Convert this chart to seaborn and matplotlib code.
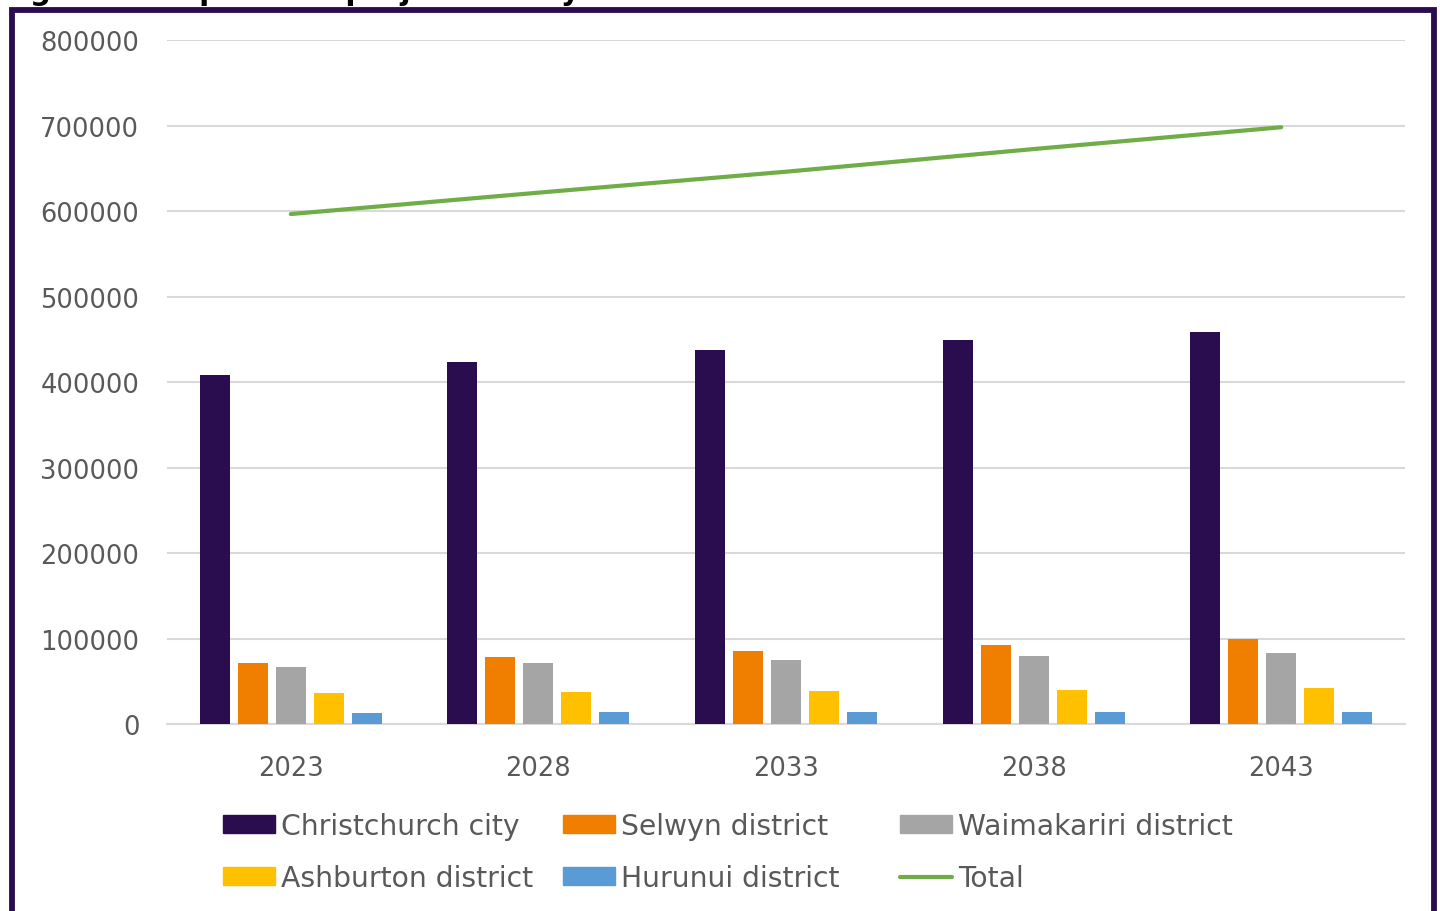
import numpy as np
import pandas as pd
import seaborn as sns
import matplotlib
matplotlib.use("Agg")
import matplotlib.pyplot as plt
from matplotlib.patches import Rectangle, Patch
from matplotlib.lines import Line2D

years = ["2023", "2028", "2033", "2038", "2043"]
districts = ["Christchurch city", "Selwyn district", "Waimakariri district",
             "Ashburton district", "Hurunui district"]
christchurch = [408000, 423500, 437500, 449000, 458500]
selwyn = [71500, 78500, 85500, 92500, 99500]
waimakariri = [66500, 71000, 75000, 79500, 83000]
ashburton = [36000, 37500, 38500, 40000, 42000]
hurunui = [13000, 13500, 14000, 14000, 14300]
total = [596500, 621500, 646000, 672500, 698000]
colors = ["#2A0D4E", "#F07F00", "#A5A5A5", "#FFC000", "#5B9BD5"]
line_color = "#70AD47"
text_color = "#595959"

sns.set_theme(style="white")
plt.rcParams["font.family"] = ["DejaVu Sans"]

rows = []
for d, vals in zip(districts, [christchurch, selwyn, waimakariri, ashburton, hurunui]):
    for y, v in zip(years, vals):
        rows.append({"year": y, "district": d, "value": v})
df = pd.DataFrame(rows)

fig = plt.figure(figsize=(14.4, 9.12), dpi=100)
ax = fig.add_axes([0.116, 0.205, 0.8597, 0.75])

sns.barplot(data=df, x="year", y="value", hue="district", hue_order=districts,
            palette=colors, saturation=1, width=0.767, gap=0.21, ax=ax, legend=False,
            edgecolor="none", linewidth=0, zorder=3)

tdf = pd.DataFrame({"pos": np.arange(len(years)), "total": total})
sns.lineplot(data=tdf, x="pos", y="total", color=line_color, linewidth=3.0,
             ax=ax, zorder=4, solid_capstyle="round")

ax.set_xlim(-0.5, len(years) - 0.5)
ax.set_ylim(0, 800000)
ax.set_yticks(np.arange(0, 800001, 100000))
ax.set_yticklabels([f"{int(v)}" for v in np.arange(0, 800001, 100000)])
ax.set_xticks(np.arange(len(years)))
ax.set_xticklabels(years)
ax.set_xlabel("")
ax.set_ylabel("")
ax.yaxis.grid(True, color="#D9D9D9", linewidth=1.5, zorder=0)
ax.set_axisbelow(True)
for s in ["top", "right", "left"]:
    ax.spines[s].set_visible(False)
ax.spines["bottom"].set_color("#D9D9D9")
ax.spines["bottom"].set_linewidth(1.5)
ax.tick_params(axis="both", length=0, labelsize=18.5, labelcolor=text_color)
ax.tick_params(axis="y", pad=20)
ax.tick_params(axis="x", pad=22)

handles = [Patch(color=c, label=d) for c, d in zip(colors, districts)]
handles.append(Line2D([0], [0], color=line_color, linewidth=3.0,
                      solid_capstyle="round", label="Total"))
columns = [[0, 3], [1, 4], [2, 5]]
col_x = [223, 563, 900]
for idx, x0 in zip(columns, col_x):
    fig.legend([handles[i] for i in idx], [handles[i].get_label() for i in idx],
               ncol=1, loc="upper left",
               bbox_to_anchor=(x0 / 1440, 1 - 813 / 912),
               frameon=False, fontsize=20.3, handlelength=1.85, handleheight=0.6,
               handletextpad=0.2, labelspacing=0.86,
               labelcolor=text_color, borderaxespad=0, borderpad=0)

# outer frame
fig.patches.append(Rectangle((12 / 1440, -0.05), (1434 - 12) / 1440, 1.05 - 10.5 / 912,
                             transform=fig.transFigure, fill=False,
                             edgecolor="#2A0D4E", linewidth=4.2, clip_on=False))

fig.text(0.0, 1 + 0.5 / 912, "Figure 2: Population projections by district",
         fontsize=21, fontweight="bold", color="black", va="baseline", ha="left")

fig.savefig("out.png", dpi=100, facecolor="white")
